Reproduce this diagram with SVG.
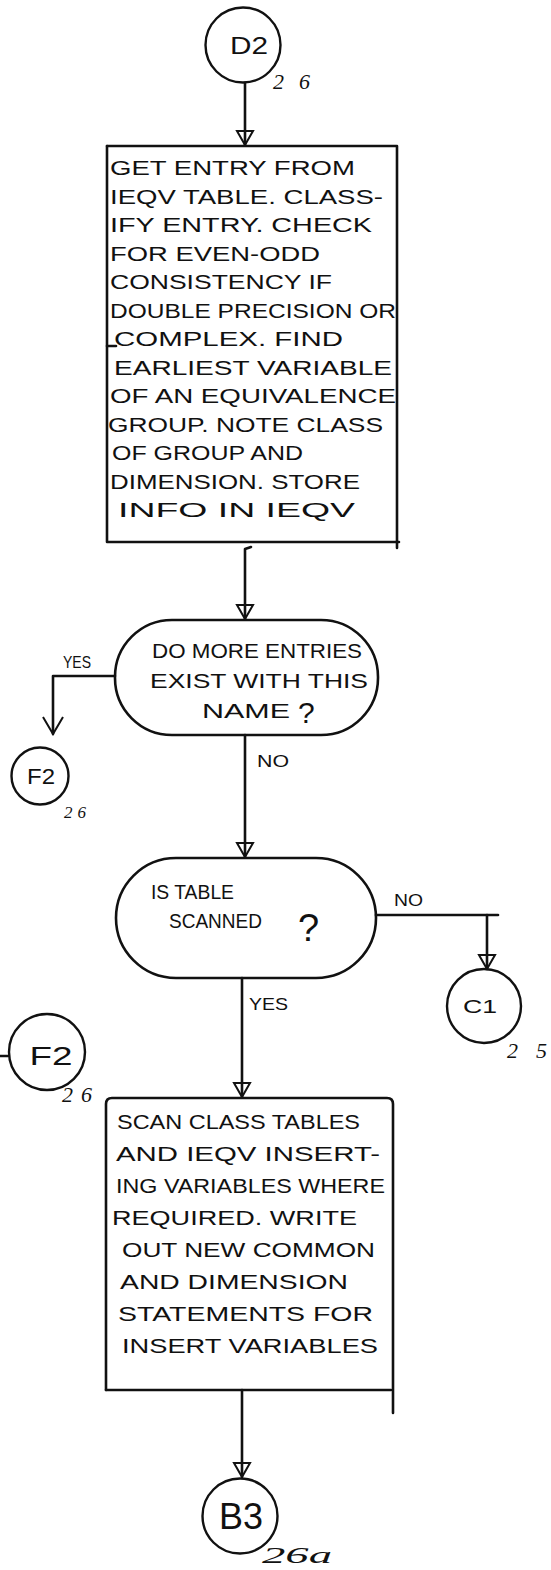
<svg xmlns="http://www.w3.org/2000/svg" width="551" height="1570" viewBox="0 0 551 1570">
  <defs>
    <style>
      .ln { fill: none; stroke: #111; stroke-width: 2.6; stroke-linecap: round; stroke-linejoin: round; }
      .circ { fill: none; stroke: #111; stroke-width: 2.4; }
      .t { font-family: "Liberation Sans", Arial, sans-serif; font-size: 20px; fill: #111; }
      .lbl { font-family: "Liberation Sans", Arial, sans-serif; font-size: 17px; fill: #111; }
      .cid { font-family: "Liberation Sans", Arial, sans-serif; font-size: 24px; fill: #111; text-anchor: middle; }
      .ref { font-family: "Liberation Serif", "Times New Roman", serif; font-style: italic; font-size: 22px; fill: #111; }
      .q { font-family: "Liberation Sans", Arial, sans-serif; fill: #111; }
    </style>
    <marker id="tri" viewBox="0 0 16 20" refX="15" refY="10" markerWidth="16" markerHeight="20" markerUnits="userSpaceOnUse" orient="auto">
      <path d="M1,2 L1,18 L15,10 Z" fill="none" stroke="#111" stroke-width="2"/>
    </marker>
    <marker id="vee" viewBox="0 0 20 24" refX="18" refY="12" markerWidth="20" markerHeight="24" markerUnits="userSpaceOnUse" orient="auto">
      <path d="M1,2 L18,12 L1,22" fill="none" stroke="#111" stroke-width="2"/>
    </marker>
  </defs>

  <rect width="551" height="1570" fill="#fff"/>

  <!-- connectors -->
  <g id="connectors">
    <path class="ln" d="M245,83 L245,145" marker-end="url(#tri)"/>
    <path class="ln" d="M251,547 L245,549 L245,619" marker-end="url(#tri)"/>
    <path class="ln" d="M115,676 L53,676 L53,734" marker-end="url(#vee)"/>
    <text class="lbl" x="63" y="668" textLength="28" lengthAdjust="spacingAndGlyphs">YES</text>
    <path class="ln" d="M245,735 L245,857" marker-end="url(#tri)"/>
    <text class="lbl" x="257" y="767" textLength="32" lengthAdjust="spacingAndGlyphs">NO</text>
    <path class="ln" d="M376,915 L498,915"/>
    <path class="ln" d="M487,915 L487,969" marker-end="url(#tri)"/>
    <text class="lbl" x="394" y="906" textLength="29" lengthAdjust="spacingAndGlyphs">NO</text>
    <path class="ln" d="M242,978 L242,1097" marker-end="url(#tri)"/>
    <text class="lbl" x="249" y="1010" textLength="39" lengthAdjust="spacingAndGlyphs">YES</text>
    <path class="ln" d="M242,1390 L242,1477" marker-end="url(#tri)"/>
    <path class="ln" d="M0,1056 L8,1056"/>
  </g>

  <!-- off-page connector D2 -->
  <g id="conn-d2">
    <circle class="circ" cx="243" cy="45" r="37.5"/>
    <text class="cid" x="249" y="54" textLength="38" lengthAdjust="spacingAndGlyphs">D2</text>
    <text class="ref" x="273" y="89" textLength="37" lengthAdjust="spacing">26</text>
  </g>

  <!-- process box 1 -->
  <g id="box-get-entry">
    <path class="ln" d="M107,146 L397,146 L397,548"/>
    <path class="ln" d="M107,146 L107,542 L399,542"/>
    <path class="ln" d="M107,346 L116,346"/>
    <text class="t" x="110" y="175" textLength="245" lengthAdjust="spacingAndGlyphs">GET ENTRY FROM</text>
    <text class="t" x="110" y="204" textLength="273" lengthAdjust="spacingAndGlyphs">IEQV TABLE. CLASS-</text>
    <text class="t" x="110" y="232" textLength="262" lengthAdjust="spacingAndGlyphs">IFY ENTRY. CHECK</text>
    <text class="t" x="110" y="261" textLength="210" lengthAdjust="spacingAndGlyphs">FOR EVEN-ODD</text>
    <text class="t" x="110" y="289" textLength="222" lengthAdjust="spacingAndGlyphs">CONSISTENCY IF</text>
    <text class="t" x="110" y="318" textLength="286" lengthAdjust="spacingAndGlyphs">DOUBLE PRECISION OR</text>
    <text class="t" x="114" y="346" textLength="229" lengthAdjust="spacingAndGlyphs">COMPLEX. FIND</text>
    <text class="t" x="114" y="375" textLength="278" lengthAdjust="spacingAndGlyphs">EARLIEST VARIABLE</text>
    <text class="t" x="110" y="403" textLength="286" lengthAdjust="spacingAndGlyphs">OF AN EQUIVALENCE</text>
    <text class="t" x="108" y="432" textLength="275" lengthAdjust="spacingAndGlyphs">GROUP. NOTE CLASS</text>
    <text class="t" x="112" y="460" textLength="191" lengthAdjust="spacingAndGlyphs">OF GROUP AND</text>
    <text class="t" x="110" y="489" textLength="250" lengthAdjust="spacingAndGlyphs">DIMENSION. STORE</text>
    <text class="t" x="118" y="517" textLength="237" lengthAdjust="spacingAndGlyphs">INFO IN IEQV</text>
  </g>

  <!-- decision 1 -->
  <g id="dec-more-entries">
    <rect class="ln" x="115" y="620" width="263" height="115" rx="57" ry="57"/>
    <text class="t" x="152" y="658" textLength="210" lengthAdjust="spacingAndGlyphs">DO MORE ENTRIES</text>
    <text class="t" x="150" y="688" textLength="218" lengthAdjust="spacingAndGlyphs">EXIST WITH THIS</text>
    <text class="t" x="202" y="718" textLength="88" lengthAdjust="spacingAndGlyphs">NAME</text>
    <text class="q" x="298" y="723" style="font-size:30px">?</text>
  </g>

  <!-- off-page connector F2 (yes branch) -->
  <g id="conn-f2-a">
    <circle class="circ" cx="40" cy="776" r="28.5"/>
    <text class="cid" x="41" y="784" style="font-size:22px" textLength="28" lengthAdjust="spacingAndGlyphs">F2</text>
    <text class="ref" x="64" y="818" style="font-size:17px" textLength="22" lengthAdjust="spacing">26</text>
  </g>

  <!-- decision 2 -->
  <g id="dec-table-scanned">
    <rect class="ln" x="116" y="858" width="260" height="120" rx="60" ry="60"/>
    <text class="t" x="151" y="899" textLength="83" lengthAdjust="spacingAndGlyphs">IS TABLE</text>
    <text class="t" x="169" y="928" textLength="93" lengthAdjust="spacingAndGlyphs">SCANNED</text>
    <text class="q" x="298" y="941" style="font-size:38px">?</text>
  </g>

  <!-- off-page connector C1 -->
  <g id="conn-c1">
    <circle class="circ" cx="484" cy="1006" r="37"/>
    <text class="cid" x="480" y="1013" style="font-size:19px" textLength="34" lengthAdjust="spacingAndGlyphs">C1</text>
    <text class="ref" x="507" y="1058" textLength="40" lengthAdjust="spacing">25</text>
  </g>

  <!-- off-page connector F2 -->
  <g id="conn-f2-b">
    <circle class="circ" cx="47" cy="1052" r="38"/>
    <text class="cid" x="51" y="1065" style="font-size:26px" textLength="43" lengthAdjust="spacingAndGlyphs">F2</text>
    <text class="ref" x="62" y="1102" textLength="30" lengthAdjust="spacing">26</text>
  </g>

  <!-- process box 2 -->
  <g id="box-scan-class">
    <path class="ln" d="M106,1390 L106,1104 Q106,1098 112,1098 L387,1098 Q393,1098 393,1104 L393,1413"/>
    <path class="ln" d="M106,1390 L391,1390"/>
    <text class="t" x="117" y="1129" textLength="243" lengthAdjust="spacingAndGlyphs">SCAN CLASS TABLES</text>
    <text class="t" x="116" y="1161" textLength="264" lengthAdjust="spacingAndGlyphs">AND IEQV INSERT-</text>
    <text class="t" x="116" y="1193" textLength="269" lengthAdjust="spacingAndGlyphs">ING VARIABLES WHERE</text>
    <text class="t" x="112" y="1225" textLength="245" lengthAdjust="spacingAndGlyphs">REQUIRED. WRITE</text>
    <text class="t" x="122" y="1257" textLength="253" lengthAdjust="spacingAndGlyphs">OUT NEW COMMON</text>
    <text class="t" x="120" y="1289" textLength="228" lengthAdjust="spacingAndGlyphs">AND DIMENSION</text>
    <text class="t" x="118" y="1321" textLength="255" lengthAdjust="spacingAndGlyphs">STATEMENTS FOR</text>
    <text class="t" x="122" y="1353" textLength="256" lengthAdjust="spacingAndGlyphs">INSERT VARIABLES</text>
  </g>

  <!-- off-page connector B3 -->
  <g id="conn-b3">
    <circle class="circ" cx="240" cy="1516" r="37.5"/>
    <text class="cid" x="241" y="1529" style="font-size:36px" textLength="44" lengthAdjust="spacingAndGlyphs">B3</text>
    <text class="ref" x="262" y="1563" style="font-size:23px" textLength="70" lengthAdjust="spacingAndGlyphs">26a</text>
  </g>
</svg>
